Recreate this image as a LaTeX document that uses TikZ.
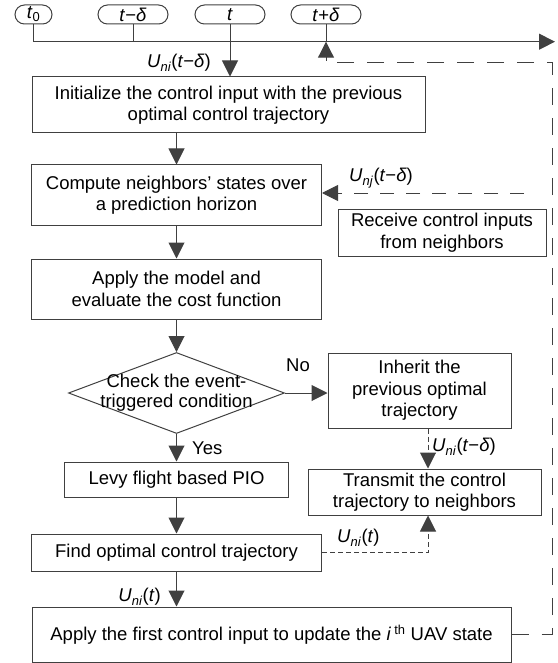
\documentclass[tikz,border=0pt]{standalone}
\usepackage{fontspec}
\setmainfont{Liberation Sans}
\usetikzlibrary{arrows.meta,shapes.geometric}
\definecolor{lc}{RGB}{64,64,64}
\newcommand{\ulab}[2]{\textit{U}\textsubscript{\textit{#1}}(#2)}
\newcommand{\tmd}{\textit{t}−\textit{δ}}
\begin{document}
\begin{tikzpicture}[x=1pt,y=-1pt,
  font=\fontsize{18.5}{21.5}\selectfont,
  box/.style={draw=lc, line width=1pt, align=center, inner sep=0pt, rectangle},
  pill/.style={draw=lc, line width=1pt, rounded corners=9.5pt, minimum height=19pt, inner sep=0pt},
  ln/.style={draw=lc, line width=1pt},
  arr/.style={ln, -{Triangle[length=16pt,width=16pt]}},
  longdash/.style={dash pattern=on 17pt off 13pt},
  middash/.style={dash pattern=on 14pt off 12pt},
  finedash/.style={dash pattern=on 5pt off 3pt},
  lab/.style={inner sep=0pt}
]
\useasboundingbox (0,0) rectangle (557,663);
% time pills
\node[pill, minimum width=37pt] (t0) at (33.5,14.5) {\textit{t}\textsubscript{0}};
\node[pill, minimum width=70pt] (tm) at (133,14.5) {\tmd};
\node[pill, minimum width=70pt] (tt) at (230,14.5) {\textit{t}};
\node[pill, minimum width=70pt] (tp) at (326,14.5) {\textit{t}+\textit{δ}};
\coordinate (tly) at (0,41.7);
\coordinate (tlend) at (555,41.7);
% main boxes
\node[box, minimum width=393pt, minimum height=56pt] (init) at (228.5,105) {Initialize the control input with the previous\\optimal control trajectory};
\node[box, minimum width=290pt, minimum height=60pt] (compute) at (176.5,195) {Compute neighbors’ states over\\a prediction horizon};
\node[box, minimum width=290pt, minimum height=60pt] (model) at (176.5,289) {Apply the model and\\evaluate the cost function};
\node[draw=lc, line width=1pt, shape=diamond, minimum width=216pt, minimum height=81pt, inner sep=0pt] (check) at (176.5,393) {};
\node[lab, align=center, font=\fontsize{18.5}{20}\selectfont] (checktxt) at (check.center) {Check the event-\\triggered condition};
\node[box, minimum width=224pt, minimum height=35pt] (levy) at (176.5,479.5) {Levy flight based PIO};
\node[box, minimum width=290pt, minimum height=37pt] (find) at (176.5,552.5) {Find optimal control trajectory};
\node[box, minimum width=479pt, minimum height=55pt] (applyfirst) at (271.5,634.5) {Apply the first control input to update the \textit{i}\,\textsuperscript{th} UAV state};
\node[box, minimum width=183pt, minimum height=75pt] (inherit) at (419.5,390.5) {Inherit the\\previous optimal\\trajectory};
\node[box, minimum width=233pt, minimum height=46pt] (transmit) at (424.5,492) {Transmit the control\\trajectory to neighbors};
\node[box, minimum width=208pt, minimum height=47pt] (receive) at (442,232.5) {Receive control inputs\\from neighbors};
% timeline
\draw[arr] (t0.south) -- (t0.south |- tly) -- (tlend);
\draw[ln] (tm.south) -- (tm.south |- tly);
\draw[ln] (tp.south) -- (tp.south |- tly);
\draw[arr] (tt.south) -- (tt.south |- init.north);
% main flow
\draw[arr] (init.south -| compute.north) -- (compute.north);
\draw[arr] (compute.south) -- (model.north);
\draw[arr] (model.south) -- (check.north);
\draw[arr] (check.south) -- (levy.north);
\draw[arr] (levy.south) -- (find.north);
\draw[arr] (find.south) -- (find.south |- applyfirst.north);
\draw[arr] (check.east) -- (check.east -| inherit.west);
% dashed connections
\coordinate (rs) at (524,193);
\draw[arr, middash] (rs) -- (rs -| compute.east);
\coordinate (ix) at (428,0);
\draw[arr, finedash] (inherit.south -| ix) -- (transmit.north -| ix);
\draw[arr, finedash] (find.east) -- (find.east -| ix) -- (transmit.south -| ix);
\coordinate (lx) at (552,63);
\draw[arr, longdash] (applyfirst.east) -- (applyfirst.east -| lx) -- (lx) -- (tp.south |- lx) -- (tp.south |- tly);
% labels
\node[lab, anchor=east] (l1) at (211,63) {\ulab{ni}{\tmd}};
\node[lab, anchor=west] (l2) at (349,178) {\ulab{nj}{\tmd}};
\node[lab] (lno) at (298,365) {No};
\node[lab, anchor=west] (lyes) at (192,448) {Yes};
\node[lab, anchor=west] (l3) at (432,447) {\ulab{ni}{\tmd}};
\node[lab, anchor=west] (l4) at (337,538) {\ulab{ni}{\textit{t}}};
\node[lab, anchor=east] (l5) at (161,597) {\ulab{ni}{\textit{t}}};
\end{tikzpicture}
\end{document}
